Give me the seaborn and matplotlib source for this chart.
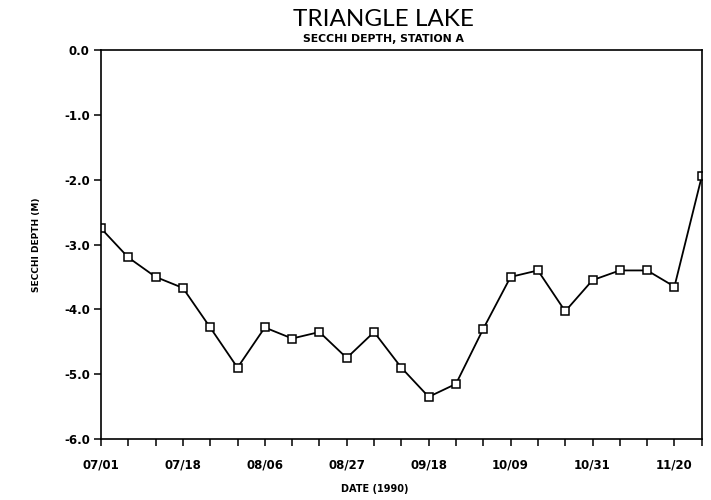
import seaborn as sns
import pandas as pd
import numpy as np
import matplotlib.pyplot as plt
from matplotlib.ticker import MultipleLocator


# Secchi depth readings (m), one per sampling trip
depth = [-2.75, -3.2, -3.5, -3.67, -4.28, -4.9, -4.28, -4.45, -4.35, -4.75,
         -4.35, -4.9, -5.35, -5.15, -4.3, -3.5, -3.4, -4.03, -3.55, -3.4,
         -3.4, -3.65, -1.95]
date_labels = ['07/01', '07/18', '08/06', '08/27', '09/18', '10/09', '10/31', '11/20']
y_ticks = [0.0, -1.0, -2.0, -3.0, -4.0, -5.0, -6.0]

data = pd.DataFrame({'trip': np.arange(len(depth)), 'depth': depth})

sns.set_theme(style='ticks', rc={'text.color': 'black', 'axes.labelcolor': 'black'})
plt.rcParams['font.family'] = ['DejaVu Sans']

fig = plt.figure(figsize=(7.11, 5.0), dpi=100)
ax = fig.add_axes([0.142, 0.122, 0.845, 0.778])

sns.lineplot(data=data, x='trip', y='depth', ax=ax, color='black', linewidth=1.3,
             marker='s', markersize=5.5, markerfacecolor='white',
             markeredgecolor='black', markeredgewidth=1.1)

ax.set_xlim(0, len(depth) - 1)
ax.set_ylim(-6.0, 0.0)
ax.set_xticks(np.arange(len(date_labels)) * 3)
ax.set_xticklabels(date_labels)
ax.xaxis.set_minor_locator(MultipleLocator(1))
ax.set_yticks(y_ticks)
ax.set_yticklabels([f'{v:.1f}' for v in y_ticks])

for s in ax.spines.values():
    s.set_visible(True)
    s.set_linewidth(1.2)
    s.set_color('black')

ax.tick_params(axis='both', which='both', direction='out', length=5, width=1.1,
               colors='black', labelsize=8.5)
ax.tick_params(axis='x', pad=9)
ax.tick_params(axis='y', pad=3)
for lab in ax.get_xticklabels() + ax.get_yticklabels():
    lab.set_fontweight('bold')

ax.set_xlabel('DATE (1990)', fontsize=7, fontweight='bold')
ax.xaxis.set_label_coords(0.456, -0.115)
ax.set_ylabel('SECCHI DEPTH (M)', fontsize=6.5, fontweight='bold')
ax.yaxis.set_label_coords(-0.1, 0.5)

fig.text(0.539, 0.962, 'TRIANGLE LAKE', ha='center', va='center', color='black',
         fontsize=17.5, fontweight='normal', family=['Lato', 'DejaVu Sans'])
fig.text(0.539, 0.923, 'SECCHI DEPTH, STATION A', ha='center', va='center',
         color='black', fontsize=7.8, fontweight='bold')

fig.savefig('out.png', dpi=100)
